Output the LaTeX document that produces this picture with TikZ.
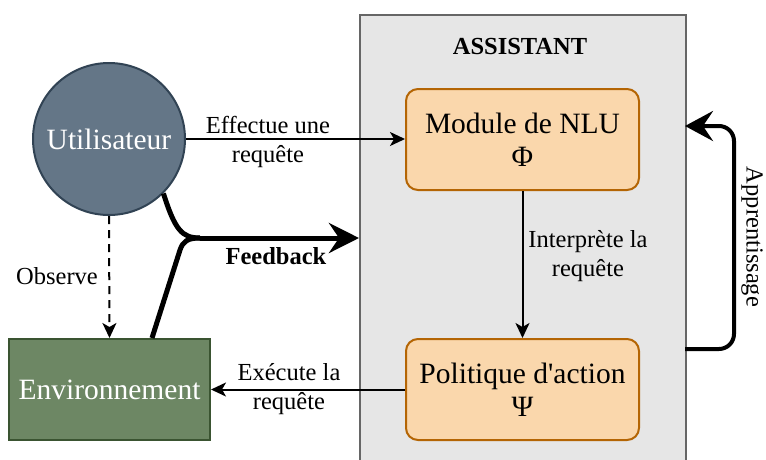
\documentclass[tikz,border=0pt]{standalone}
\usepackage{fontspec}
\setmainfont{Liberation Serif}[Ligatures=TeXOff]
\usetikzlibrary{arrows.meta}
\definecolor{userfill}{HTML}{647687}
\definecolor{userdraw}{HTML}{314354}
\definecolor{envfill}{HTML}{6D8764}
\definecolor{envdraw}{HTML}{3A5431}
\definecolor{procfill}{HTML}{FAD7AC}
\definecolor{procdraw}{HTML}{B46504}
\definecolor{assistfill}{HTML}{E6E6E6}
\definecolor{assistdraw}{HTML}{666666}
\tikzset{
  bigtxt/.style={font=\fontsize{29.5}{33}\selectfont},
  smalltxt/.style={font=\fontsize{24.5}{29}\selectfont},
  assist/.style={draw=assistdraw, fill=assistfill, line width=2pt, inner sep=0pt},
  proc/.style={draw=procdraw, fill=procfill, line width=2pt, rounded corners=12pt,
    minimum width=233pt, minimum height=101pt, align=center, bigtxt, inner sep=0pt},
  user/.style={circle, draw=userdraw, fill=userfill, line width=2pt, minimum size=152pt,
    text=white, bigtxt, inner sep=0pt},
  env/.style={draw=envdraw, fill=envfill, line width=2pt, minimum width=201pt,
    minimum height=101pt, text=white, bigtxt, inner sep=0pt},
  lbl/.style={smalltxt, align=center, inner sep=0pt},
  thinarrow/.style={line width=2pt, -{Stealth[length=15pt,width=14pt,inset=4pt]}},
  dasharrow/.style={line width=2pt, dash pattern=on 8pt off 6pt, -{Stealth[length=15pt,width=14pt,inset=4pt]}},
  thickarrow/.style={line width=5pt, -{Stealth[length=30pt,width=30pt,inset=10pt]}},
  learnarrow/.style={line width=4pt, rounded corners=15pt, -{Stealth[length=28pt,width=30pt,inset=10pt]}},
}
\begin{document}
\begin{tikzpicture}[x=1pt,y=-1pt]
\useasboundingbox[fill=white] (0,0) rectangle (766,459);
\node[assist, minimum width=326pt, minimum height=460pt, anchor=north west] (assistant) at (359,14) {};
\node[smalltxt, font=\fontsize{24.5}{29}\selectfont\bfseries] (title) at (520,47) {ASSISTANT};
\node[proc] (nlu) at (522.5,139.5) {Module de NLU\\Φ};
\node[proc] (pol) at (522.5,389.5) {Politique d'action\\Ψ};
\node[user] (user) at (109,139) {Utilisateur};
\node[env] (env) at (109.5,389.5) {Environnement};

\draw[thinarrow] (user.east) -- (user.east -| nlu.west);
\node[lbl] (l1) at (268,142) {Effectue une\\requête};

\draw[thinarrow] (nlu) -- (pol);
\node[lbl] (l2) at (588,256) {Interprète la\\requête};

\draw[thinarrow] (pol.west) -- (pol.west -| env.east);
\node[lbl] (l3) at (289,389) {Exécute la\\requête};

\draw[dasharrow] (user.south) -- (env.north);
\node[lbl] (l4) at (57,276) {Observe};

\coordinate (fbend) at (359,238);
\coordinate (fbjoin) at (200,238);
\draw[line width=5pt] (user.south east) .. controls (175,230) and (182,238) .. (fbjoin);
\draw[line width=5pt] ([xshift=42.5pt]env.north) -- (180,250) .. controls (183,241) and (188,238) .. (fbjoin);
\draw[thickarrow] (fbjoin) -- (fbend);
\node[lbl, font=\fontsize{24.5}{29}\selectfont\bfseries] (l5) at (276,256) {Feedback};

\coordinate (lin) at (685,349);
\coordinate (lout) at (685,126);
\draw[learnarrow] (lin) -- (734,349) -- (734,126) -- (lout);
\node[lbl, rotate=-90] (l6) at (752,237) {Apprentissage};
\end{tikzpicture}
\end{document}
